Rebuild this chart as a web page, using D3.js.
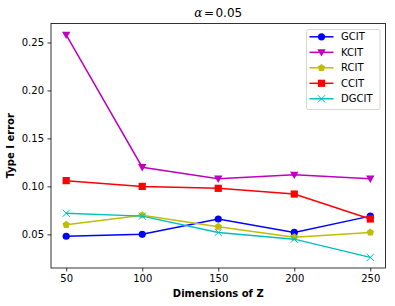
<!DOCTYPE html>
<html>
<head>
<meta charset="utf-8">
<script src="https://cdn.jsdelivr.net/npm/d3@7"></script>
<style>
  html, body { margin: 0; padding: 0; background: #fff; }
  svg { display: block; font-family: "DejaVu Sans", sans-serif; }
</style>
</head>
<body>
<div id="chart"></div>
<script>
const dims = [50, 100, 150, 200, 250];
const gcit  = [0.048, 0.050, 0.066, 0.052, 0.069];
const kcit  = [0.258, 0.120, 0.108, 0.112, 0.108];
const rcit  = [0.060, 0.070, 0.058, 0.047, 0.052];
const ccit  = [0.106, 0.100, 0.098, 0.092, 0.066];
const dgcit = [0.072, 0.069, 0.052, 0.045, 0.026];
const xTicks = [50, 100, 150, 200, 250];
const yTicks = [0.05, 0.10, 0.15, 0.20, 0.25];

const series = [
  {name: "GCIT",  values: gcit,  color: "#0000ff", marker: "circle"},
  {name: "KCIT",  values: kcit,  color: "#bf00bf", marker: "tridown"},
  {name: "RCIT",  values: rcit,  color: "#bfbf00", marker: "pentagon"},
  {name: "CCIT",  values: ccit,  color: "#ff0000", marker: "square"},
  {name: "DGCIT", values: dgcit, color: "#00bfbf", marker: "x"}
];

const width = 395, height = 306;
const marginLeft = 51, marginRight = 9.5, marginTop = 23.5, marginBottom = 38;

const svg = d3.select("#chart").append("svg")
  .attr("width", width)
  .attr("height", height)
  .attr("viewBox", [0, 0, width, height]);

const x = d3.scaleLinear()
  .domain([40, 260])
  .range([marginLeft, width - marginRight]);

const y = d3.scaleLinear()
  .domain([0.01492, 0.2698])
  .range([height - marginBottom, marginTop]);

// axes
const gx = svg.append("g")
  .attr("transform", `translate(0,${height - marginBottom})`)
  .call(d3.axisBottom(x).tickValues(xTicks).tickSize(3.5).tickPadding(3.5).tickSizeOuter(0));
gx.select(".domain").remove();
gx.selectAll("text").attr("font-size", 10).attr("font-family", "DejaVu Sans").attr("fill", "#000");
gx.selectAll("line").attr("stroke-width", 0.8);

const gy = svg.append("g")
  .attr("transform", `translate(${marginLeft},0)`)
  .call(d3.axisLeft(y).tickValues(yTicks).tickFormat(d3.format(".2f")).tickSize(3.5).tickPadding(3.5));
gy.select(".domain").remove();
gy.selectAll("text").attr("font-size", 10).attr("font-family", "DejaVu Sans").attr("fill", "#000");
gy.selectAll("line").attr("stroke-width", 0.8);

// frame
svg.append("rect")
  .attr("x", marginLeft).attr("y", marginTop)
  .attr("width", width - marginLeft - marginRight)
  .attr("height", height - marginTop - marginBottom)
  .attr("fill", "none").attr("stroke", "#000").attr("stroke-width", 0.8);

// marker drawing
function drawMarker(g, type, color, cx, cy) {
  if (type === "circle") {
    g.append("circle").attr("cx", cx).attr("cy", cy).attr("r", 3.6).attr("fill", color);
  } else if (type === "square") {
    g.append("rect").attr("x", cx - 3.6).attr("y", cy - 3.6).attr("width", 7.2).attr("height", 7.2).attr("fill", color);
  } else if (type === "tridown") {
    const r = 4.2;
    g.append("path").attr("d", `M${cx - r},${cy - r * 0.75}L${cx + r},${cy - r * 0.75}L${cx},${cy + r}Z`).attr("fill", color);
  } else if (type === "pentagon") {
    const r = 3.9;
    const pts = d3.range(5).map(i => {
      const a = -Math.PI / 2 + i * 2 * Math.PI / 5;
      return [cx + r * Math.cos(a), cy + r * Math.sin(a)];
    });
    g.append("path").attr("d", "M" + pts.join("L") + "Z").attr("fill", color);
  } else if (type === "x") {
    const r = 3.6;
    g.append("path").attr("d", `M${cx - r},${cy - r}L${cx + r},${cy + r}M${cx - r},${cy + r}L${cx + r},${cy - r}`)
      .attr("stroke", color).attr("stroke-width", 1).attr("fill", "none");
  }
}

const line = d3.line().x((d, i) => x(dims[i])).y(d => y(d));

series.forEach(s => {
  const g = svg.append("g");
  g.append("path")
    .attr("d", line(s.values))
    .attr("fill", "none")
    .attr("stroke", s.color)
    .attr("stroke-width", 1.5);
  s.values.forEach((v, i) => drawMarker(g, s.marker, s.color, x(dims[i]), y(v)));
});

// title (mathtext style: italic alpha, tight spacing round "=")
const title = svg.append("text")
  .attr("x", (marginLeft + width - marginRight) / 2)
  .attr("y", 17)
  .attr("text-anchor", "middle")
  .attr("font-size", 12)
  .attr("fill", "#000");
title.append("tspan").attr("font-family", "DejaVu Serif").attr("font-style", "italic").text("α");
title.append("tspan").attr("dx", 1.5).text("=");
title.append("tspan").attr("dx", 1.5).text("0.05");

// axis labels
svg.append("text")
  .attr("x", (marginLeft + width - marginRight) / 2)
  .attr("y", 297)
  .attr("text-anchor", "middle")
  .attr("font-size", 10)
  .attr("font-weight", "bold")
  .text("Dimensions of Z");

svg.append("text")
  .attr("transform", `translate(14,${(marginTop + height - marginBottom) / 2}) rotate(-90)`)
  .attr("text-anchor", "middle")
  .attr("font-size", 10)
  .attr("font-weight", "bold")
  .text("Type I error");

// legend
const legend = svg.append("g").attr("transform", "translate(306.5,29.5)");
legend.append("rect")
  .attr("width", 73.5).attr("height", 80).attr("rx", 2)
  .attr("fill", "#fff").attr("fill-opacity", 0.8)
  .attr("stroke", "#cccccc").attr("stroke-width", 0.8);

series.forEach((s, i) => {
  const ly = 7.3 + i * 15.5;
  const g = legend.append("g");
  g.append("line").attr("x1", 3).attr("x2", 27).attr("y1", ly).attr("y2", ly)
    .attr("stroke", s.color).attr("stroke-width", 1.5);
  drawMarker(g, s.marker, s.color, 15, ly);
  g.append("text").attr("x", 34.5).attr("y", ly + 3.6)
    .attr("font-size", 10).attr("fill", "#000").text(s.name);
});
</script>
</body>
</html>
